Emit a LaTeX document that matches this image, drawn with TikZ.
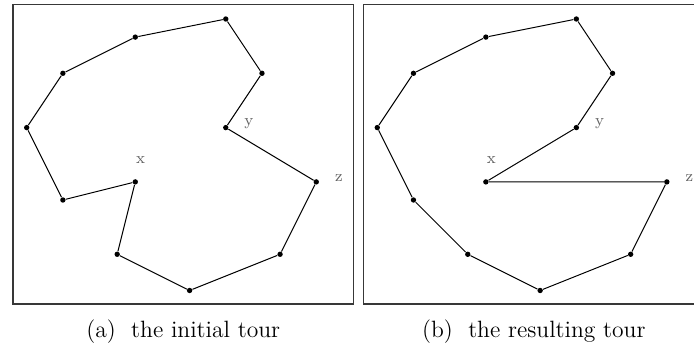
\documentclass[tikz,border=0pt]{standalone}
\usepackage{tikz}
\usetikzlibrary{calc}

\begin{document}
\begin{tikzpicture}[x=9.05pt,y=9.05pt,
				frm/.style={draw=black!78,line width=0.75pt},
				tour/.style={draw=black,line width=0.5pt},
				pt/.style={circle,fill=black,inner sep=0.95pt},
				lbl/.style={text=black!62,font=\footnotesize,inner sep=1pt},
				captxt/.style={anchor=base,font=\fontsize{11.8}{14}\selectfont}]

				\useasboundingbox (-1.475,-2.9) rectangle (36.87,16.05);

				%%%%%%%%%%%%%%%%  left panel  %%%%%%%%%%%%%%%%
				\begin{scope}
					\draw[frm] (-0.77,-0.75) rectangle (18.06,15.79);
					\foreach \n/\px/\py in {1/11/15,2/13/12,3/11/9,4/16/6,5/14/2,6/9/0,
						7/5/2,8/6/6,9/2/5,10/0/9,11/2/12,12/6/14}
						\node[pt] (a\n) at (\px,\py) {};
					% the initial tour
					\draw[tour] (a1) -- (a2) -- (a3) -- (a4) -- (a5) -- (a6) -- (a7)
						-- (a8) -- (a9) -- (a10) -- (a11) -- (a12) -- (a1);
					\node[lbl] (ax) at ($(a8)+(0.3,1.2)$) {x};
					\node[lbl] (ay) at ($(a3)+(1.28,0.2)$) {y};
					\node[lbl] (az) at ($(a4)+(1.25,0.22)$) {z};
					\node[captxt] (capa) at (8.65,-2.6) {(a)~ the initial tour};
				\end{scope}

				%%%%%%%%%%%%%%%%  right panel  %%%%%%%%%%%%%%%%
				\begin{scope}[xshift=175.3pt]
					\draw[frm] (-0.77,-0.75) rectangle (18.06,15.79);
					\foreach \n/\px/\py in {1/11/15,2/13/12,3/11/9,4/16/6,5/14/2,6/9/0,
						7/5/2,8/6/6,9/2/5,10/0/9,11/2/12,12/6/14}
						\node[pt] (b\n) at (\px,\py) {};
					% x moved in between y and z
					\draw[tour] (b1) -- (b2) -- (b3) -- (b8) -- (b4) -- (b5) -- (b6)
						-- (b7) -- (b9) -- (b10) -- (b11) -- (b12) -- (b1);
					\node[lbl] (bx) at ($(b8)+(0.3,1.2)$) {x};
					\node[lbl] (by) at ($(b3)+(1.28,0.2)$) {y};
					\node[lbl] (bz) at ($(b4)+(1.25,0.22)$) {z};
					\node[captxt] (capb) at (8.65,-2.6) {(b)~ the resulting tour};
				\end{scope}
			\end{tikzpicture}
\end{document}
